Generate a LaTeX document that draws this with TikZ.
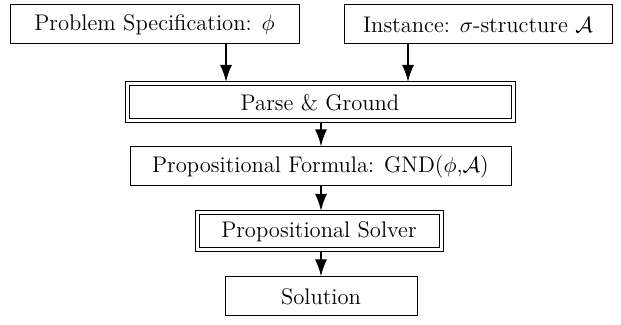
\documentclass[tikz,border=0pt]{standalone}
\usetikzlibrary{arrows.meta}
\begin{document}
\begin{tikzpicture}[x=0.5pt,y=-0.5pt,
  txt/.style={font=\fontsize{11.3}{13}\selectfont},
  box/.style={txt,draw,line width=0.5pt,inner sep=0pt,minimum height=19.5pt},
  dbox/.style={txt,draw,line width=0.5pt,inner sep=0pt,minimum height=16.5pt},
  rim/.style={draw,line width=0.5pt},
  flow/.style={line width=1pt,-{Latex[length=8.5pt,width=6pt]}}]
\useasboundingbox (0,0) rectangle (621,325);
\node[box,minimum width=144.5pt] (spec) at (154.5,24.5) {Problem Specification: $\phi$};
\node[box,minimum width=134pt] (inst) at (478,24.5) {Instance: $\sigma$-structure $\mathcal{A}$};
\node[dbox,minimum width=191pt] (pg) at (320,102.5) {Parse \& Ground};
\node[box,minimum width=190.5pt] (pf) at (320.5,166.5) {Propositional Formula: GND($\phi$,$\mathcal{A}$)};
\node[dbox,minimum width=120pt] (ps) at (319,231.5) {Propositional Solver};
\node[box,minimum width=96pt] (sol) at (321,296.5) {Solution};
% outer frames of the double-ruled boxes
\draw[rim] ([shift={(-1.75pt,-1.75pt)}]pg.south west) rectangle ([shift={(1.75pt,1.75pt)}]pg.north east);
\draw[rim] ([shift={(-1.75pt,-1.75pt)}]ps.south west) rectangle ([shift={(1.75pt,1.75pt)}]ps.north east);
% x positions of the vertical connectors
\coordinate (c1) at (226,0);
\coordinate (c2) at (408,0);
\coordinate (cm) at (321,0);
\draw[flow] (spec.south -| c1) -- ([yshift=1.75pt]pg.north -| c1);
\draw[flow] (inst.south -| c2) -- ([yshift=1.75pt]pg.north -| c2);
\draw[flow] ([yshift=-1.75pt]pg.south -| cm) -- (pf.north -| cm);
\draw[flow] (pf.south -| cm) -- ([yshift=1.75pt]ps.north -| cm);
\draw[flow] ([yshift=-1.75pt]ps.south -| cm) -- (sol.north -| cm);
\end{tikzpicture}
\end{document}
